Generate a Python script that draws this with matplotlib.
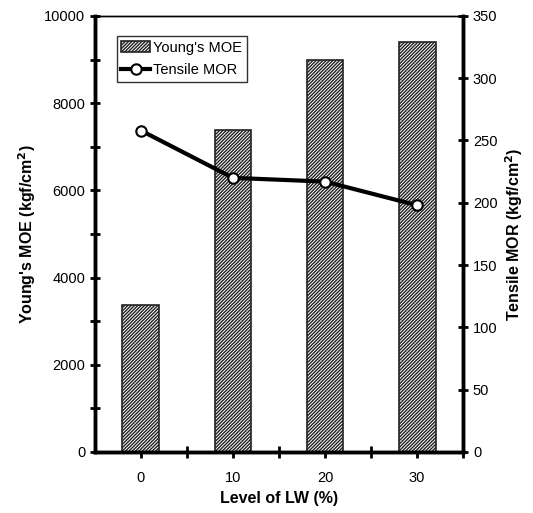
import matplotlib.pyplot as plt
import numpy as np

plt.rcParams['font.family'] = ['Liberation Sans', 'DejaVu Sans']
plt.rcParams['hatch.linewidth'] = 1.0

levels = ['0', '10', '20', '30']
youngs_moe = [3370, 7380, 9000, 9400]
tensile_mor = [258, 220, 217, 198]


def ve():
    fig = plt.figure(figsize=(5.33, 5.13), dpi=100)
    ax = fig.add_axes([0.178, 0.119, 0.691, 0.85])
    x = np.arange(len(levels))

    ax.bar(x, youngs_moe, width=0.4, color='white', edgecolor='#222222',
           hatch='//////////', linewidth=1.2, label="Young's MOE", zorder=2)
    ax.set_xlim(-0.5, 3.5)
    ax.set_ylim(0, 10000)
    ax.set_yticks(np.arange(0, 10001, 2000))
    ax.set_yticks(np.arange(0, 10001, 1000), minor=True)
    ax.set_xticks(x)
    ax.set_xticklabels(levels)
    ax.set_xticks([0.5, 1.5, 2.5, 3.5], minor=True)
    ax.tick_params(axis='y', which='both', direction='inout', length=7, width=2, labelsize=10.5)
    ax.tick_params(axis='x', which='major', direction='out', length=4, width=2, labelsize=10.5, pad=10)
    ax.tick_params(axis='x', which='minor', direction='inout', length=8, width=2)

    ax2 = ax.twinx()
    ax2.plot(x, tensile_mor, '-o', color='black', linewidth=3, markersize=7.5,
             markerfacecolor='white', markeredgecolor='black', markeredgewidth=1.5,
             label='Tensile MOR', zorder=3)
    ax2.set_ylim(0, 350)
    ax2.set_yticks(np.arange(0, 351, 50))
    ax2.tick_params(axis='y', direction='inout', length=7, width=2, labelsize=10.5)

    for a in (ax, ax2):
        a.spines['left'].set_linewidth(2.5)
        a.spines['right'].set_linewidth(2.5)
        a.spines['bottom'].set_linewidth(2.5)
        a.spines['top'].set_linewidth(1)
        a.spines['top'].set_linestyle((0, (4, 1)))

    ax.set_xlabel('Level of LW (%)', fontsize=11.5, fontweight='bold')
    ax.set_ylabel("Young's MOE (kgf/cm$^{\\mathbf{2}}$)", fontsize=11.5, fontweight='bold')
    ax2.set_ylabel("Tensile MOR (kgf/cm$^{\\mathbf{2}}$)", fontsize=11.5, fontweight='bold')

    h1, l1 = ax.get_legend_handles_labels()
    h2, l2 = ax2.get_legend_handles_labels()
    leg = ax2.legend(h1 + h2, l1 + l2, loc='upper left', bbox_to_anchor=(0.04, 0.97),
                     fontsize=10.5, frameon=True, fancybox=False, edgecolor='black',
                     handlelength=2.0, handletextpad=0.2, borderpad=0.3, labelspacing=0.6)
    leg.get_frame().set_linewidth(1)

    fig.savefig('out.png', dpi=100)


ve()
